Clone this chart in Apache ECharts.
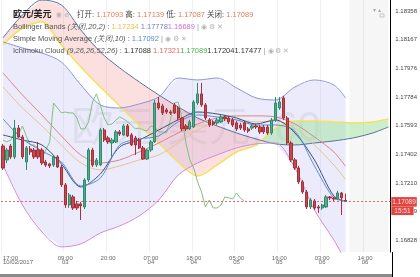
<!DOCTYPE html>
<html><head><meta charset="utf-8">
<script src="https://cdn.jsdelivr.net/npm/echarts@6/dist/echarts.min.js"></script>
<style>html,body{margin:0;padding:0;background:#fff}#c{width:420px;height:277px}</style>
</head><body><div id="c"></div>
<script>
// ---- candles (hourly, from 17:00 10/02/2017) ----
const opens = [1.17457,1.17364,1.17457,1.17384,1.17577,1.17517,1.17350,1.17437,1.17430,1.17430,
1.17430,1.17350,1.17337,1.17330,1.17384,1.17317,1.17197,1.17063,1.17117,1.17070,
1.17070,1.17050,1.17230,1.17430,1.17330,1.17330,1.17564,1.17511,1.17477,1.17484,
1.17551,1.17531,1.17591,1.17531,1.17511,1.17497,1.17444,1.17370,1.17430,1.17484,
1.17744,1.17724,1.17698,1.17684,1.17731,1.17711,1.17644,1.17591,1.17571,1.17584,
1.17744,1.17805,1.17731,1.17631,1.17618,1.17611,1.17618,1.17651,1.17644,1.17631,
1.17611,1.17597,1.17611,1.17571,1.17577,1.17591,1.17584,1.17584,1.17584,1.17544,
1.17631,1.17711,1.17778,1.17644,1.17477,1.17364,1.17310,1.17217,1.17150,1.17050,
1.17090,1.17050,1.17043,1.17050,1.17117,1.17110,1.17103,1.17143,1.17093];
const closes = [1.17310,1.17430,1.17384,1.17577,1.17517,1.17384,1.17444,1.17417,1.17384,1.17384,
1.17344,1.17330,1.17324,1.17384,1.17317,1.17197,1.17063,1.17130,1.17043,1.17043,
1.17056,1.17230,1.17430,1.17330,1.17364,1.17564,1.17497,1.17484,1.17497,1.17551,
1.17537,1.17591,1.17524,1.17464,1.17464,1.17444,1.17370,1.17430,1.17484,1.17744,
1.17711,1.17678,1.17684,1.17678,1.17678,1.17644,1.17571,1.17571,1.17618,1.17751,
1.17805,1.17731,1.17644,1.17597,1.17604,1.17631,1.17651,1.17638,1.17618,1.17597,
1.17571,1.17577,1.17564,1.17557,1.17591,1.17584,1.17551,1.17551,1.17544,1.17631,
1.17744,1.17751,1.17644,1.17477,1.17364,1.17310,1.17217,1.17150,1.17050,1.17096,
1.17043,1.17043,1.17063,1.17117,1.17110,1.17103,1.17143,1.17110,1.17089];
const lows = [1.17297,1.17344,1.17370,1.17370,1.17511,1.17370,1.17297,1.17397,1.17370,1.17370,
1.17330,1.17317,1.17310,1.17317,1.17310,1.17183,1.17043,1.17043,1.17030,1.17030,
1.16963,1.17036,1.17217,1.17317,1.17317,1.17324,1.17484,1.17471,1.17384,1.17477,
1.17524,1.17524,1.17517,1.17457,1.17397,1.17437,1.17364,1.17364,1.17417,1.17477,
1.17698,1.17664,1.17671,1.17664,1.17671,1.17631,1.17557,1.17557,1.17564,1.17577,
1.17731,1.17718,1.17631,1.17584,1.17591,1.17597,1.17611,1.17624,1.17604,1.17584,
1.17557,1.17564,1.17551,1.17544,1.17564,1.17571,1.17537,1.17537,1.17531,1.17531,
1.17618,1.17698,1.17631,1.17464,1.17350,1.17297,1.17203,1.17137,1.17036,1.17036,
1.17030,1.17010,1.17030,1.17043,1.17096,1.17090,1.17096,1.16996,1.17087];
const highs = [1.17471,1.17444,1.17471,1.17631,1.17597,1.17531,1.17457,1.17457,1.17444,1.17484,
1.17444,1.17364,1.17344,1.17397,1.17397,1.17330,1.17210,1.17143,1.17130,1.17090,
1.17083,1.17243,1.17444,1.17444,1.17377,1.17577,1.17577,1.17524,1.17511,1.17564,
1.17564,1.17604,1.17604,1.17544,1.17524,1.17511,1.17457,1.17437,1.17497,1.17764,
1.17784,1.17738,1.17711,1.17698,1.17744,1.17724,1.17651,1.17604,1.17631,1.17764,
1.17878,1.17878,1.17744,1.17644,1.17631,1.17644,1.17664,1.17664,1.17658,1.17644,
1.17624,1.17611,1.17624,1.17584,1.17604,1.17604,1.17597,1.17597,1.17597,1.17644,
1.17784,1.17784,1.17791,1.17658,1.17491,1.17377,1.17324,1.17230,1.17163,1.17110,
1.17103,1.17063,1.17070,1.17130,1.17123,1.17117,1.17157,1.17150,1.17139];

// ---- indicator lines, read at sample candles ----
const lineIdx = [0,5,10,15,20,25,30,35,40,45,50,55,60,65,70,75,80,85,88];
const bbUpper = [1.18152,1.18112,1.18078,1.18018,1.17865,1.17731,1.17711,1.17738,1.17784,1.17911,1.17898,1.17911,1.17845,1.17778,1.17764,1.17851,1.17898,1.17865,1.17778];
const bbMiddle = [1.17851,1.17711,1.17591,1.17464,1.17344,1.17297,1.17324,1.17364,1.17397,1.17477,1.17564,1.17618,1.17631,1.17618,1.17624,1.17577,1.17464,1.17330,1.17234];
const bbLower = [1.17330,1.17063,1.16883,1.16783,1.16803,1.16876,1.16923,1.16990,1.17096,1.17263,1.17344,1.17397,1.17444,1.17471,1.17477,1.17310,1.17030,1.16829,1.16689];
const sma10 = [1.17638,1.17504,1.17424,1.17350,1.17190,1.17243,1.17464,1.17504,1.17524,1.17618,1.17664,1.17651,1.17631,1.17597,1.17597,1.17557,1.17324,1.17110,1.17092];
const tenkan = [1.17531,1.17497,1.17464,1.17337,1.17183,1.17270,1.17451,1.17497,1.17564,1.17631,1.17684,1.17671,1.17644,1.17604,1.17631,1.17544,1.17364,1.17123,1.17088];
const kijun = [1.17945,1.17798,1.17664,1.17524,1.17397,1.17344,1.17364,1.17417,1.17477,1.17544,1.17604,1.17644,1.17658,1.17658,1.17651,1.17604,1.17517,1.17417,1.17321];
const cloudIdx = [0,5,10,15,20,25,30,35,40,45,50,55,60,65,70,75,80,85,90,95,99];
const spanA = [1.18132,1.18245,1.18286,1.18132,1.17985,1.17851,1.17724,1.17597,1.17477,1.17350,1.17257,1.17330,1.17417,1.17464,1.17577,1.17624,1.17624,1.17618,1.17611,1.17618,1.17638];
const spanB = [1.18179,1.18332,1.18432,1.18399,1.18232,1.18085,1.17978,1.17885,1.17798,1.17718,1.17644,1.17591,1.17544,1.17504,1.17471,1.17464,1.17477,1.17491,1.17511,1.17544,1.17584];
const chikouShift = 26;

// ---- axes ----
const slotCount = 100;
const xTickIdx = [0,16,27,38,49,60,71,82,93];
const xTickText = ['17:00\n10/02/2017','09:00\n03','20:00','07:00\n04','18:00\n04','05:00\n05','16:00\n05','03:00\n06','14:00\n06'];
const yTicks = [1.16828,1.17019,1.17210,1.17402,1.17593,1.17784,1.17976,1.18167,1.18358];
const yMin = 1.16749, yMax = 1.18432;
const lastPrice = 1.17089, lastTime = '15:51';
const watermark = '欧元/美元, 60';

const categories = [];
for (let i = 0; i < slotCount; i++) { const h = (17 + i) % 24; categories.push((h < 10 ? '0' : '') + h + ':00'); }
const labelMap = {}; xTickIdx.forEach((ix, k) => labelMap[ix] = xTickText[k]);

const candleData = opens.map((o, i) => [o, closes[i], lows[i], highs[i]]);
const pairs = (idx, arr) => idx.map((ix, k) => [ix, arr[k]]);
const chikouData = [];
for (let j = 0; j + chikouShift < closes.length; j++) chikouData.push([j, closes[j + chikouShift]]);

const FONT = "'Liberation Sans','Noto Sans CJK SC',sans-serif";
const chart = echarts.init(document.getElementById('c'), null, {renderer: 'canvas'});

function lineSeries(name, arr, color, width, z) {
  return {name, type: 'line', data: pairs(lineIdx, arr), smooth: 0.3, symbol: 'none', silent: true,
    lineStyle: {color, width: width || 1}, z: z || 3, clip: true};
}

const option = {
  animation: false,
  grid: {left: 0, right: 28, top: 0, bottom: 25},
  xAxis: {
    type: 'category', data: categories, boundaryGap: true,
    axisLine: {show: false}, axisTick: {show: false},
    axisLabel: {interval: 0, formatter: (v, i) => labelMap[i] || '', fontSize: 6, lineHeight: 4,
      color: '#666', margin: 4, fontFamily: FONT, alignMinLabel: 'left'},
    splitLine: {show: true, interval: (i) => labelMap[i] !== undefined, lineStyle: {color: '#f0f0f0', width: 1}}
  },
  yAxis: {
    type: 'value', position: 'right', min: yMin, max: yMax,
    axisLine: {show: true, lineStyle: {color: '#000', width: 1}},
    axisTick: {show: false}, splitLine: {show: false},
    axisLabel: {customValues: yTicks, formatter: v => v.toFixed(5), fontSize: 6, color: '#444', margin: 5, fontFamily: FONT}
  },
  graphic: [
    {type: 'text', x: 196, y: 129, z: 1, silent: true, style: {text: watermark, fontSize: 42, fontFamily: FONT, fill: 'rgba(130,130,130,0.16)', align: 'center', verticalAlign: 'middle'}},
    {type: 'text', x: 13, y: 15, z: 100, style: {text: '欧元/美元', font: "bold 9px " + FONT, fill: '#222', verticalAlign: 'middle'}},
    {type: 'text', x: 56, y: 15, z: 100, style: {text: '◉ ⚙', fontSize: 6, fontFamily: FONT, fill: '#b5b5b5', verticalAlign: 'middle'}},
    {type: 'text', x: 77, y: 15, z: 100, style: {
      text: '{l|打开:} {v|1.17093} {l|高:} {v|1.17139} {l|低:} {v|1.17087} {l|关闭:} {v|1.17089}',
      fontSize: 7.5, fontFamily: FONT, verticalAlign: 'middle',
      rich: {l: {fill: '#444', fontSize: 7.5, fontFamily: FONT}, v: {fill: '#e0805e', fontSize: 7.5, fontFamily: FONT}}}},
    {type: 'text', x: 13, y: 27, z: 100, style: {
      text: '{l|Bollinger Bands }{i|(关闭,20,2)}{l| : }{y|1.17234} {b|1.17778}{p|1.16689}{s| | }{c|◉ ⚙ ✕}',
      fontSize: 7.5, fontFamily: FONT, verticalAlign: 'middle',
      rich: {l: {fill: '#555', fontSize: 7.5}, i: {fill: '#555', fontSize: 7.5, fontStyle: 'italic'},
        y: {fill: '#e9c14a', fontSize: 7.5}, b: {fill: '#6f80d0', fontSize: 7.5}, p: {fill: '#d46fcf', fontSize: 7.5},
        s: {fill: '#999', fontSize: 7.5}, c: {fill: '#b5b5b5', fontSize: 6.5}}}},
    {type: 'text', x: 13, y: 39, z: 100, style: {
      text: '{l|Simple Moving Average }{i|(关闭,10)}{l| : }{b|1.17092}{s| | }{c|◉ ⚙ ✕}',
      fontSize: 7.5, fontFamily: FONT, verticalAlign: 'middle',
      rich: {l: {fill: '#555', fontSize: 7.5}, i: {fill: '#555', fontSize: 7.5, fontStyle: 'italic'},
        b: {fill: '#5a8ad6', fontSize: 7.5}, s: {fill: '#999', fontSize: 7.5}, c: {fill: '#b5b5b5', fontSize: 6.5}}}},
    {type: 'text', x: 13, y: 51, z: 100, style: {
      text: '{l|Ichimoku Cloud }{i|(9,26,26,52,26)}{l| : }{k|1.17088} {r|1.17321}{g|1.17089}{k|1.17204}{k|1.17477}{s| | }{c|◉ ⚙ ✕}',
      fontSize: 7.5, fontFamily: FONT, verticalAlign: 'middle',
      rich: {l: {fill: '#555', fontSize: 7.5}, i: {fill: '#555', fontSize: 7.5, fontStyle: 'italic'},
        k: {fill: '#333', fontSize: 7.5}, r: {fill: '#e06a6a', fontSize: 7.5}, g: {fill: '#4cae4c', fontSize: 7.5},
        s: {fill: '#999', fontSize: 7.5}, c: {fill: '#b5b5b5', fontSize: 6.5}}}},
    {type: 'text', x: 373, y: 10, z: 100, style: {text: '▾ ▴', fontSize: 6, fill: '#aaa', verticalAlign: 'middle'}},
    {type: 'rect', x: 380, y: 14, z: 100, shape: {width: 4, height: 3}, style: {fill: 'none', stroke: '#aaa', lineWidth: 0.6}},
    {type: 'line', z: 100, shape: {x1: 392.5, y1: 252, x2: 392.5, y2: 277}, style: {stroke: '#000', lineWidth: 1}},
    {type: 'rect', z: 100, shape: {x: 0, y: 274, width: 392, height: 3}, style: {fill: '#8a8a8a'}}
  ],
  series: [
    {type: 'custom', name: 'bbFill', silent: true, clip: true, z: 1, data: [[0, bbUpper[0]]],
      renderItem: (params, api) => {
        const pts = lineIdx.map((ix, k) => api.coord([ix, bbUpper[k]]))
          .concat(lineIdx.map((ix, k) => api.coord([ix, bbLower[k]])).reverse());
        return {type: 'polygon', shape: {points: pts}, style: {fill: 'rgba(188,188,242,0.30)'}};
      }},
    {type: 'custom', name: 'cloud', silent: true, clip: true, z: 1, data: [[0, spanA[0]]],
      renderItem: (params, api) => {
        const children = [];
        const poly = (pts, d) => ({type: 'polygon', shape: {points: pts},
          style: {fill: d > 0 ? 'rgba(150,226,150,0.45)' : 'rgba(244,150,150,0.30)'}});
        for (let k = 0; k < cloudIdx.length - 1; k++) {
          const a0 = api.coord([cloudIdx[k], spanA[k]]), a1 = api.coord([cloudIdx[k + 1], spanA[k + 1]]);
          const b0 = api.coord([cloudIdx[k], spanB[k]]), b1 = api.coord([cloudIdx[k + 1], spanB[k + 1]]);
          const d0 = spanA[k] - spanB[k], d1 = spanA[k + 1] - spanB[k + 1];
          if (d0 * d1 < 0) {
            const t = d0 / (d0 - d1);
            const c = [a0[0] + (a1[0] - a0[0]) * t, a0[1] + (a1[1] - a0[1]) * t];
            children.push(poly([a0, c, b0], d0));
            children.push(poly([c, a1, b1], d1));
          } else children.push(poly([a0, a1, b1, b0], d0 + d1));
        }
        return {type: 'group', children};
      }},
    {name: 'spanA', type: 'line', data: pairs(cloudIdx, spanA), smooth: 0.3, symbol: 'none', silent: true, lineStyle: {color: '#f3e25a', width: 1.5}, z: 2},
    {name: 'spanB', type: 'line', data: pairs(cloudIdx, spanB), smooth: 0.3, symbol: 'none', silent: true, lineStyle: {color: '#5d6f9f', width: 1}, z: 2},
    lineSeries('bbUpper', bbUpper, '#8d95d8', 1, 2),
    lineSeries('bbLower', bbLower, '#d58ad5', 1, 2),
    lineSeries('bbMiddle', bbMiddle, '#e8c28e', 1, 3),
    lineSeries('kijun', kijun, '#d98585', 1, 3),
    {name: 'chikou', type: 'line', data: chikouData, symbol: 'none', silent: true, lineStyle: {color: '#80c080', width: 1}, z: 3},
    lineSeries('tenkan', tenkan, '#3d4f78', 1, 3),
    lineSeries('sma10', sma10, '#5a8ad6', 1, 3),
    {name: 'EURUSD', type: 'candlestick', data: candleData, barWidth: '72%', z: 5, silent: true,
      itemStyle: {color: '#4fae8e', color0: '#c9474f', borderColor: '#2f8a6c', borderColor0: '#a53038', borderWidth: 1},
      markArea: {silent: true, itemStyle: {color: 'rgba(0,0,0,0.035)'}, data: [[{xAxis: categories[89]}, {xAxis: categories[slotCount - 1]}]]}},
    {name: 'lastPrice', type: 'line', data: [[0, lastPrice]], symbol: 'none', silent: true, lineStyle: {opacity: 0}, z: 6,
      markLine: {silent: true, symbol: ['none', 'none'], animation: false, precision: 5,
        lineStyle: {color: '#e06a6a', type: [2, 2], width: 1},
        label: {position: 'end', distance: 1, offset: [0, 5], formatter: '{a|' + lastPrice.toFixed(5) + '}\n{b|' + lastTime + '}',
          rich: {a: {backgroundColor: '#e0463f', color: '#fde', fontSize: 6.5, padding: [2, 1, 1, 1], fontFamily: FONT},
                 b: {backgroundColor: '#e0463f', color: '#fde', fontSize: 6.5, padding: [1, 3, 1, 3], fontFamily: FONT}}},
        data: [{yAxis: lastPrice}]}}
  ]
};
chart.setOption(option);
</script></body></html>
